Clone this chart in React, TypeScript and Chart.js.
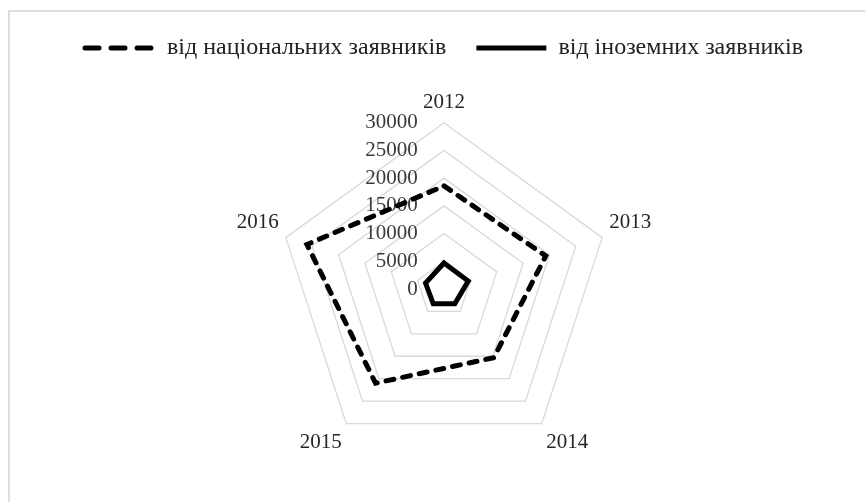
import React, { useEffect, useRef } from "react";
import { Chart, registerables } from "chart.js";

Chart.register(...registerables);

const categories = ["2012", "2013", "2014", "2015", "2016"];
const nationalValues = [18600, 19300, 15300, 21000, 26000];
const foreignValues = [4700, 4600, 3300, 3300, 3500];
const seriesNames = ["від національних заявників", "від іноземних заявників"];
const tickMax = 30000;
const tickStep = 5000;

export default function App() {
  const ref = useRef<HTMLCanvasElement | null>(null);

  useEffect(() => {
    if (!ref.current) return;
    const serif = "'Liberation Serif', 'DejaVu Serif', serif";
    const legendDashes = [[14, 12], []];
    const chart = new Chart(ref.current, {
      type: "radar",
      data: {
        labels: categories,
        datasets: [
          {
            label: seriesNames[0],
            data: nationalValues,
            borderColor: "#000000",
            backgroundColor: "#000000",
            borderWidth: 5,
            borderDash: [8, 9],
            borderCapStyle: "round",
            borderJoinStyle: "miter",
            fill: false,
            pointRadius: 0,
            pointHoverRadius: 0,
            pointStyle: "line",
          },
          {
            label: seriesNames[1],
            data: foreignValues,
            borderColor: "#000000",
            backgroundColor: "#000000",
            borderWidth: 5,
            borderJoinStyle: "miter",
            fill: false,
            pointRadius: 0,
            pointHoverRadius: 0,
            pointStyle: "line",
          },
        ],
      },
      options: {
        animation: false,
        responsive: false,
        maintainAspectRatio: false,
        layout: { padding: { left: 23, right: 0, top: 6, bottom: 23 } },
        plugins: {
          tooltip: { enabled: false },
          title: {
            display: true,
            text: "",
            weight: 500,
            font: { size: 10, lineHeight: 1 },
            padding: 0,
          },
          legend: {
            position: "top",
            labels: {
              usePointStyle: true,
              pointStyleWidth: 70,
              padding: 30,
              color: "#222222",
              font: { family: serif, size: 24 },
              generateLabels: (c: any) => {
                const items = Chart.defaults.plugins.legend.labels.generateLabels(c);
                return items.map((it: any) => ({
                  ...it,
                  lineDash: legendDashes[it.datasetIndex] || [],
                  lineWidth: 5,
                  lineCap: it.datasetIndex === 0 ? "round" : "butt",
                  strokeStyle: "#000000",
                  fillStyle: "#000000",
                }));
              },
            },
          },
        },
        scales: {
          r: {
            min: -1e-9,
            max: tickMax,
            angleLines: { display: false },
            grid: { color: "#d9d9d9", lineWidth: 1.3 },
            pointLabels: {
              color: "#262626",
              font: { family: serif, size: 21 },
              padding: -5,
            },
            ticks: {
              stepSize: tickStep,
              showLabelBackdrop: false,
              color: "#3a3a3a",
              font: { family: serif, size: 21 },
              callback: (v: any) => {
                const s = String(Math.round(Number(v) / tickStep) * tickStep);
                return s + " ".repeat(2 * s.length + 10);
              },
            },
          },
        },
      },
    });
    return () => chart.destroy();
  }, []);

  return (
    <div style={{ position: "absolute", left: 0, top: 0, width: 865, height: 502, overflow: "hidden", background: "#fff" }}>
      <div
        style={{
          position: "absolute",
          left: 8,
          top: 10,
          width: 900,
          height: 600,
          borderTop: "2px solid #dedede",
          borderLeft: "2px solid #dedede",
        }}
      />
      <canvas ref={ref} width={865} height={502} style={{ position: "absolute", left: 0, top: 0 }} />
    </div>
  );
}
